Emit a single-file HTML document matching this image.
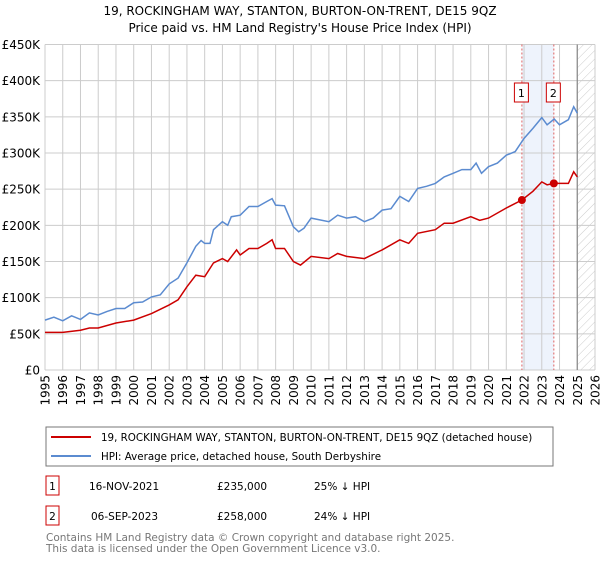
<!DOCTYPE html>
<html><head><meta charset="utf-8"><style>
body{margin:0;width:600px;height:560px;background:#fff;font-family:"Liberation Sans","DejaVu Sans",sans-serif;overflow:hidden}
svg text{font-family:"DejaVu Sans","Liberation Sans",sans-serif}
</style></head><body>
<svg id="c" width="600" height="560" xmlns="http://www.w3.org/2000/svg">
<text x="300" y="15" font-size="12" text-anchor="middle">19, ROCKINGHAM WAY, STANTON, BURTON-ON-TRENT, DE15 9QZ</text>
<text x="300" y="32" font-size="12" text-anchor="middle">Price paid vs. HM Land Registry's House Price Index (HPI)</text>
<defs><pattern id="hatch" width="6" height="6" patternUnits="userSpaceOnUse" patternTransform="rotate(45)"><line x1="0" y1="0" x2="0" y2="6" stroke="#ccc" stroke-width="1"/></pattern></defs>
<g id="grid"></g><g id="marks"></g><g id="axes"></g>
<rect x="46" y="427" width="507" height="39" fill="#fff" stroke="#777"/>
<line x1="51" y1="437" x2="91" y2="437" stroke="#cc0000" stroke-width="2"/>
<text x="101" y="441" font-size="10.3">19, ROCKINGHAM WAY, STANTON, BURTON-ON-TRENT, DE15 9QZ (detached house)</text>
<line x1="51" y1="456" x2="91" y2="456" stroke="#5b8bd0" stroke-width="2"/>
<text x="101" y="460" font-size="10.3">HPI: Average price, detached house, South Derbyshire</text>
<g font-size="10.5">
<rect x="46" y="476" width="13" height="19" fill="#fff" stroke="#cc0000"/>
<text x="52.5" y="490" text-anchor="middle">1</text>
<text x="89" y="490">16-NOV-2021</text>
<text x="217" y="490">£235,000</text>
<text x="314" y="490">25% ↓ HPI</text>
<rect x="46" y="506" width="13" height="19" fill="#fff" stroke="#cc0000"/>
<text x="52.5" y="520" text-anchor="middle">2</text>
<text x="91" y="520">06-SEP-2023</text>
<text x="217" y="520">£258,000</text>
<text x="314" y="520">24% ↓ HPI</text>
</g>
<text x="46" y="541" font-size="10.5" fill="#777">Contains HM Land Registry data © Crown copyright and database right 2025.</text>
<text x="46" y="552" font-size="10.5" fill="#777">This data is licensed under the Open Government Licence v3.0.</text>
</svg>
<script>
const hpiYears=[1995,1995.5,1996,1996.5,1997,1997.5,1998,1998.5,1999,1999.5,2000,2000.5,2001,2001.5,2002,2002.5,2003,2003.5,2003.8,2004,2004.3,2004.5,2005,2005.3,2005.5,2006,2006.5,2007,2007.5,2007.8,2008,2008.5,2009,2009.3,2009.6,2010,2011,2011.5,2012,2012.5,2013,2013.5,2014,2014.5,2015,2015.5,2016,2016.5,2017,2017.5,2018,2018.5,2019,2019.3,2019.6,2020,2020.5,2021,2021.5,2022,2022.5,2023,2023.3,2023.7,2024,2024.5,2024.8,2025];
const hpiValues=[69,73,68,75,70,79,76,81,85,85,93,94,101,104,119,127,148,171,179,175,175,194,205,200,212,214,226,226,233,237,228,227,198,191,196,210,205,214,210,212,205,210,221,223,240,233,251,254,258,267,272,277,277,286,272,281,286,297,302,320,334,349,339,347,339,346,364,355];
const ppYears=[1995,1996,1997,1997.5,1998,1999,2000,2001,2002,2002.5,2003,2003.5,2004,2004.5,2005,2005.3,2005.8,2006,2006.5,2007,2007.5,2007.8,2008,2008.5,2009,2009.4,2010,2011,2011.5,2012,2013,2014,2015,2015.5,2016,2017,2017.5,2018,2019,2019.5,2020,2021,2021.88,2022.5,2023,2023.3,2023.67,2024,2024.5,2024.8,2025];
const ppValues=[52,52,55,58,58,65,69,78,90,97,115,131,129,148,154,150,166,159,168,168,175,180,168,168,150,145,157,154,161,157,154,166,180,175,189,194,203,203,212,207,210,224,235,247,260,256,258,258,258,274,267];
const saleYears=[2021.88,2023.68];
const saleValues=[235,258];
const yTicks=[0,50,100,150,200,250,300,350,400,450];
const yTickLabels=["£0","£50K","£100K","£150K","£200K","£250K","£300K","£350K","£400K","£450K"];
const xTicks=[1995,1996,1997,1998,1999,2000,2001,2002,2003,2004,2005,2006,2007,2008,2009,2010,2011,2012,2013,2014,2015,2016,2017,2018,2019,2020,2021,2022,2023,2024,2025,2026];
const X0=45,X1=595,Y0=370,Y1=44.5;
const xs=y=>X0+(y-1995)/31*(X1-X0);
const ys=v=>Y0-v/450*(Y0-Y1);
const NS="http://www.w3.org/2000/svg";
function mk(p,t,a){const e=document.createElementNS(NS,t);for(const k in a)e.setAttribute(k,a[k]);p.appendChild(e);return e;}
const grid=document.getElementById('grid'),marks=document.getElementById('marks'),axes=document.getElementById('axes');
let band=mk(grid,'rect',{x:xs(saleYears[0]),y:Y1,width:xs(saleYears[1])-xs(saleYears[0]),height:Y0-Y1,fill:'#eef3fc'});


let hz=mk(grid,'rect',{x:xs(2025),y:Y1,width:xs(2026)-xs(2025),height:Y0-Y1,fill:'url(#hatch)'});


xTicks.forEach(t=>{let l=mk(grid,'line',{x1:xs(t),x2:xs(t),y1:Y1,y2:Y0,stroke:'#ccc','stroke-width':1});


let tx=mk(axes,'text',{x:0,y:0,'font-size':12,'text-anchor':'end',transform:`translate(${xs(t)+4.5},375) rotate(-90)`});tx.textContent=t;

});
yTicks.forEach((t,i)=>{let l=mk(grid,'line',{x1:X0,x2:X1,y1:ys(t),y2:ys(t),stroke:'#ccc','stroke-width':1});


let tx=mk(axes,'text',{x:40,y:ys(t)+4.5,'font-size':12,'text-anchor':'end'});tx.textContent=yTickLabels[i];

});
let nowl=mk(grid,'line',{x1:xs(2025),x2:xs(2025),y1:Y1,y2:Y0,stroke:'#888','stroke-width':1.2});


saleYears.forEach((s,i)=>{let l=mk(grid,'line',{x1:xs(s),x2:xs(s),y1:Y1,y2:Y0,stroke:'#e06060','stroke-width':1,'stroke-dasharray':'2,2'});


let r=mk(axes,'rect',{x:xs(s)-7.5,y:83,width:14,height:19,fill:'#fff',stroke:'#cc0000'});


let t=mk(axes,'text',{x:xs(s)-0.5,y:97,'font-size':11,'text-anchor':'middle'});t.textContent=String(i+1);

});
function path(xa,va){return xa.map((x,i)=>(i?'L':'M')+xs(x).toFixed(1)+','+ys(va[i]).toFixed(1)).join('');}
let h=mk(marks,'path',{d:path(hpiYears,hpiValues),fill:'none',stroke:'#5b8bd0','stroke-width':1.5});


let p=mk(marks,'path',{d:path(ppYears,ppValues),fill:'none',stroke:'#cc0000','stroke-width':1.5});


saleYears.forEach((s,i)=>{let c=mk(marks,'circle',{cx:xs(s),cy:ys(saleValues[i]),r:4,fill:'#cc0000'});

});
</script>
</body></html>
